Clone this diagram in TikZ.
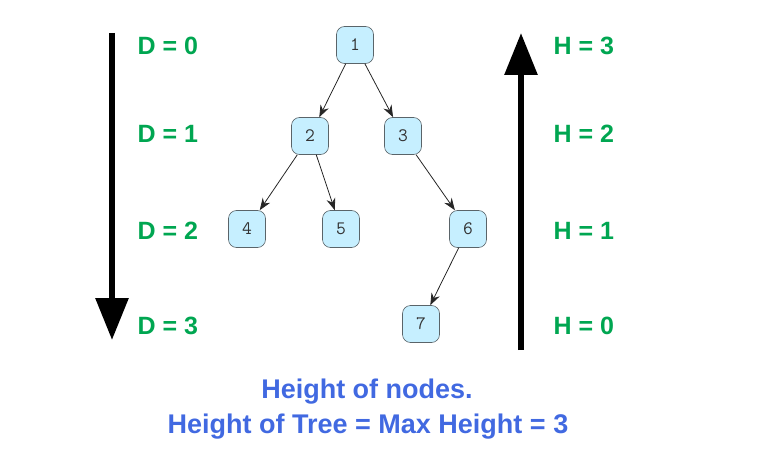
\documentclass[tikz,border=0pt]{standalone}
\usepackage{fontspec}
\setmainfont{Liberation Sans}
\usetikzlibrary{arrows.meta}
\definecolor{lblgreen}{RGB}{0,166,81}
\definecolor{lblblue}{RGB}{65,105,225}
\definecolor{nodefill}{RGB}{198,239,255}
\definecolor{nodeline}{RGB}{90,100,105}
\begin{document}
\begin{tikzpicture}[x=1pt,y=-1pt,
  treenode/.style={draw=nodeline,fill=nodefill,rounded corners=8pt,minimum width=37pt,minimum height=37pt,inner sep=0pt,font=\ttfamily\fontsize{19}{19}\selectfont,text=black!80,line width=0.6pt},
  edge/.style={-{Stealth[length=12pt,width=9pt]},draw=black!85,line width=0.8pt},
  lbl/.style={text=lblgreen,font=\bfseries\fontsize{25}{25}\selectfont,anchor=west},
  bottomtxt/.style={text=lblblue,font=\bfseries\fontsize{27}{27}\selectfont},
  bigarrow/.style={line width=6pt,-{Triangle[width=32pt,length=42pt]}}]
\useasboundingbox (0,0) rectangle (757,468);
\node[treenode] (n1) at (355,45) {1};
\node[treenode] (n2) at (310,136) {2};
\node[treenode] (n3) at (403,136) {3};
\node[treenode] (n4) at (247,229) {4};
\node[treenode] (n5) at (341,229) {5};
\node[treenode] (n6) at (468,229) {6};
\node[treenode] (n7) at (421,324) {7};
\draw[edge] (n1) -- (n2);
\draw[edge] (n1) -- (n3);
\draw[edge] (n2) -- (n4);
\draw[edge] (n2) -- (n5);
\draw[edge] (n3) -- (n6);
\draw[edge] (n6) -- (n7);
\coordinate (la) at (112,33);
\coordinate (lb) at (112,340);
\coordinate (ra) at (521,350);
\coordinate (rb) at (521,33);
\draw[bigarrow] (la) -- (lb);
\draw[bigarrow] (ra) -- (rb);
\node[lbl] (d0) at (134,46) {D = 0};
\node[lbl] (d1) at (134,134) {D = 1};
\node[lbl] (d2) at (134,231) {D = 2};
\node[lbl] (d3) at (134,326) {D = 3};
\node[lbl] (h3) at (550,46) {H = 3};
\node[lbl] (h2) at (550,134) {H = 2};
\node[lbl] (h1) at (550,231) {H = 1};
\node[lbl] (h0) at (550,326) {H = 0};
\node[bottomtxt] (t1) at (367,392) {Height of nodes.};
\node[bottomtxt] (t2) at (368,427) {Height of Tree = Max Height = 3};
\end{tikzpicture}
\end{document}
